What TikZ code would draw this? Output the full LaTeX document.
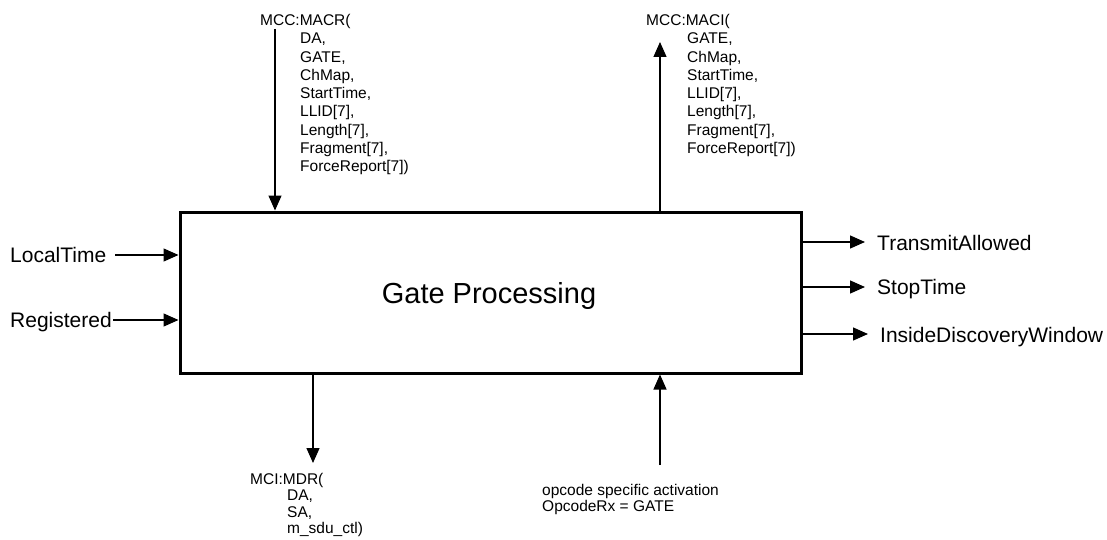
\documentclass[tikz,border=0pt]{standalone}
\usepackage{fontspec}
\setmainfont{Liberation Sans}
\usetikzlibrary{arrows.meta}
\begin{document}
\begin{tikzpicture}[x=1pt,y=-1pt,
  lbl/.style={font=\fontsize{21}{25}\selectfont, inner sep=0pt, anchor=base west},
  sml/.style={font=\fontsize{15.5}{18.3}\selectfont, inner sep=0pt, align=left, anchor=base west},
  smlb/.style={font=\fontsize{15.5}{16.3}\selectfont, inner sep=0pt, align=left, anchor=base west},
  flow/.style={line width=1.3pt, -{Triangle[length=15pt,width=13pt]}},
]
\useasboundingbox (0,0) rectangle (1107,540);
% main block
\node[draw, line width=3pt, minimum width=621pt, minimum height=161pt, inner sep=0pt] (box) at (490.5,292.5) {};
\node[font=\fontsize{29}{33}\selectfont] (title) at (489,296) {Gate Processing};
% left inputs
\node[lbl] (lt) at (10,262.5) {LocalTime};
\node[lbl] (reg) at (10,327.5) {Registered};
\coordinate (ltA) at (115,255);
\coordinate (regA) at (113,320);
\draw[flow] (ltA) -- (ltA -| box.west);
\draw[flow] (regA) -- (regA -| box.west);
% right outputs
\node[lbl] (ta) at (877,250) {TransmitAllowed};
\node[lbl] (st) at (877,294.5) {StopTime};
\node[lbl] (idw) at (880,342) {InsideDiscoveryWindow};
\coordinate (taA) at (865,242);
\coordinate (stA) at (865,287);
\coordinate (idwA) at (868,334);
\draw[flow] (taA -| box.east) -- (taA);
\draw[flow] (stA -| box.east) -- (stA);
\draw[flow] (idwA -| box.east) -- (idwA);
% top (base anchor = baseline of the last line)
\node[sml] (macr) at (260,171.9) {MCC:MACR(\\
\hspace*{40pt}DA,\\
\hspace*{40pt}GATE,\\
\hspace*{40pt}ChMap,\\
\hspace*{40pt}StartTime,\\
\hspace*{40pt}LLID[7],\\
\hspace*{40pt}Length[7],\\
\hspace*{40pt}Fragment[7],\\
\hspace*{40pt}ForceReport[7])};
\node[sml] (maci) at (646,153.6) {MCC:MACI(\\
\hspace*{41pt}GATE,\\
\hspace*{41pt}ChMap,\\
\hspace*{41pt}StartTime,\\
\hspace*{41pt}LLID[7],\\
\hspace*{41pt}Length[7],\\
\hspace*{41pt}Fragment[7],\\
\hspace*{41pt}ForceReport[7])};
\coordinate (macrA) at (275,29);
\coordinate (maciA) at (660,42);
\draw[flow] (macrA) -- (macrA |- box.north);
\draw[flow] (maciA |- box.north) -- (maciA);
% bottom
\node[smlb] (mdr) at (250,533.4) {MCI:MDR(\\
\hspace*{37pt}DA,\\
\hspace*{37pt}SA,\\
\hspace*{37pt}m\_sdu\_ctl)};
\node[smlb] (op) at (542,511.3) {opcode specific activation\\OpcodeRx = GATE};
\coordinate (mdrA) at (313,463);
\coordinate (opA) at (660,465);
\draw[flow] (mdrA |- box.south) -- (mdrA);
\draw[flow] (opA) -- (opA |- box.south);
\end{tikzpicture}
\end{document}
